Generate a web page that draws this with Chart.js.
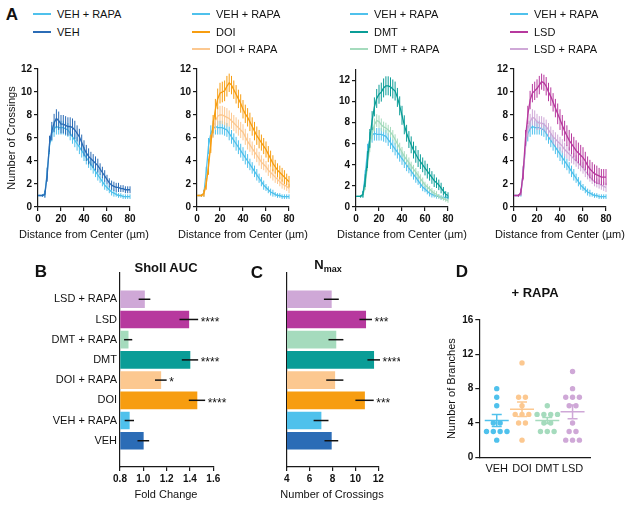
<!DOCTYPE html>
<html>
<head>
<meta charset="utf-8">
<script src="https://cdn.jsdelivr.net/npm/chart.js@4.4.1/dist/chart.umd.min.js"></script>
<style>
  body { margin: 0; background: #fff; }
  #fig { position: relative; width: 632px; height: 507px; overflow: hidden; font-family: "Liberation Sans", Arial, sans-serif; color: #111; }
  canvas { position: absolute; }
  .t { position: absolute; white-space: nowrap; line-height: 1; }
  .c { transform: translate(-50%, -50%); }
  .m { transform: translateY(-50%); }
  .letter { font-weight: bold; font-size: 17px; }
  .ttl { font-weight: bold; font-size: 13px; }
  .ttl sub { font-size: 9px; vertical-align: -3px; }
  .leg { font-size: 11px; }
  .ax { font-size: 11px; }
  .sw { position: absolute; height: 2px; width: 18px; transform: translateY(-50%); }
</style>
</head>
<body>
<div id="fig">
  <canvas id="a1"></canvas>
  <canvas id="a2"></canvas>
  <canvas id="a3"></canvas>
  <canvas id="a4"></canvas>
  <canvas id="b"></canvas>
  <canvas id="c"></canvas>
  <canvas id="d"></canvas>
</div>
<script>
// Sholl profiles, distance from center (um)
const dist = [0, 2, 4, 6, 8, 10, 12, 14, 16, 18,
  20, 22, 24, 26, 28, 30, 32, 34, 36, 38,
  40, 42, 44, 46, 48, 50, 52, 54, 56, 58,
  60, 62, 64, 66, 68, 70, 72, 74, 76, 78, 80]

const vehRapa = [1.0, 1.0, 1.0, 1.2, 3.0, 5.3, 6.4, 6.8, 7.0, 6.9,
  6.9, 6.9, 6.8, 6.7, 6.4, 6.1, 5.8, 5.5, 5.2, 4.9,
  4.6, 4.3, 4.0, 3.7, 3.4, 3.1, 2.8, 2.5, 2.2, 1.9,
  1.7, 1.5, 1.3, 1.2, 1.1, 1.0, 1.0, 0.9, 0.9, 0.9, 0.9]
const vehRapaErr = [0.0, 0.0, 0.1, 0.3, 0.5, 0.7, 0.7, 0.7, 0.7, 0.6,
  0.6, 0.6, 0.6, 0.6, 0.6, 0.6, 0.6, 0.6, 0.6, 0.6,
  0.6, 0.6, 0.6, 0.5, 0.5, 0.5, 0.5, 0.4, 0.4, 0.4,
  0.3, 0.3, 0.3, 0.3, 0.2, 0.2, 0.2, 0.2, 0.2, 0.2, 0.2]

const veh = [1.0, 1.0, 1.0, 1.1, 2.8, 5.5, 6.6, 7.3, 7.7, 7.5,
  7.2, 7.2, 7.1, 7.0, 7.0, 6.9, 6.7, 6.4, 6.1, 5.6,
  5.1, 4.7, 4.4, 4.2, 4.0, 3.8, 3.6, 3.3, 3.0, 2.7,
  2.4, 2.1, 1.9, 1.8, 1.7, 1.7, 1.6, 1.6, 1.5, 1.5, 1.5]
const vehErr = [0.0, 0.0, 0.1, 0.3, 0.6, 0.7, 0.8, 0.8, 0.8, 0.8,
  0.8, 0.8, 0.8, 0.8, 0.8, 0.8, 0.8, 0.7, 0.7, 0.7,
  0.7, 0.7, 0.7, 0.6, 0.6, 0.6, 0.6, 0.5, 0.5, 0.5,
  0.4, 0.4, 0.4, 0.4, 0.4, 0.4, 0.3, 0.3, 0.3, 0.3, 0.3]

const doi = [1.0, 1.0, 1.0, 1.2, 2.0, 3.5, 5.5, 7.2, 8.5, 9.4,
  9.9, 10.0, 10.1, 10.5, 10.8, 10.6, 10.2, 9.8, 9.4, 9.0,
  8.5, 8.1, 7.8, 7.4, 7.0, 6.6, 6.2, 5.9, 5.6, 5.3,
  5.0, 4.6, 4.2, 3.8, 3.5, 3.2, 3.0, 2.8, 2.6, 2.4, 2.2]
const doiErr = [0.0, 0.0, 0.1, 0.3, 0.5, 0.7, 0.8, 0.8, 0.9, 0.9,
  0.9, 0.9, 0.9, 0.9, 0.8, 0.8, 0.8, 0.8, 0.8, 0.8,
  0.8, 0.8, 0.8, 0.8, 0.8, 0.8, 0.8, 0.8, 0.7, 0.7,
  0.7, 0.7, 0.7, 0.7, 0.6, 0.6, 0.6, 0.6, 0.6, 0.5, 0.5]

const doiRapa = [1.0, 1.0, 1.0, 1.1, 2.0, 3.8, 5.6, 6.8, 7.5, 7.9,
  8.0, 8.0, 7.9, 7.8, 7.7, 7.5, 7.3, 7.1, 6.9, 6.7,
  6.5, 6.1, 5.7, 5.4, 5.1, 4.8, 4.5, 4.2, 3.9, 3.7,
  3.5, 3.2, 3.0, 2.8, 2.6, 2.4, 2.2, 2.0, 1.9, 1.8, 1.6]
const doiRapaErr = [0.0, 0.0, 0.1, 0.2, 0.4, 0.6, 0.7, 0.8, 0.8, 0.8,
  0.8, 0.8, 0.8, 0.8, 0.7, 0.7, 0.7, 0.7, 0.7, 0.7,
  0.7, 0.7, 0.7, 0.6, 0.6, 0.6, 0.6, 0.6, 0.6, 0.5,
  0.5, 0.5, 0.5, 0.5, 0.5, 0.4, 0.4, 0.4, 0.4, 0.4, 0.4]

const dmt = [1.0, 1.0, 1.0, 1.2, 2.5, 4.5, 6.5, 8.2, 9.5, 10.3,
  10.7, 10.9, 11.3, 11.5, 11.5, 11.4, 11.2, 11.0, 10.4, 9.6,
  8.7, 7.8, 7.0, 6.4, 5.9, 5.4, 5.0, 4.6, 4.3, 4.0,
  3.7, 3.4, 3.1, 2.8, 2.5, 2.3, 2.1, 1.8, 1.5, 1.2, 1.1]
const dmtErr = [0.0, 0.0, 0.1, 0.3, 0.6, 0.8, 0.9, 0.9, 0.9, 0.9,
  0.9, 0.9, 0.9, 0.9, 0.9, 0.9, 0.9, 0.9, 0.9, 0.9,
  0.9, 0.9, 0.8, 0.8, 0.8, 0.8, 0.8, 0.8, 0.7, 0.7,
  0.7, 0.7, 0.6, 0.6, 0.6, 0.5, 0.5, 0.5, 0.4, 0.3, 0.3]

const dmtRapa = [1.0, 1.0, 1.0, 1.1, 2.0, 4.0, 5.8, 7.0, 7.8, 8.2,
  8.1, 7.8, 7.6, 7.5, 7.3, 7.1, 6.8, 6.4, 6.0, 5.6,
  5.2, 4.8, 4.5, 4.2, 3.9, 3.6, 3.3, 3.0, 2.7, 2.4,
  2.1, 1.9, 1.7, 1.5, 1.3, 1.2, 1.0, 0.9, 0.8, 0.7, 0.6]
const dmtRapaErr = [0.0, 0.0, 0.1, 0.2, 0.4, 0.6, 0.6, 0.6, 0.6, 0.6,
  0.6, 0.6, 0.5, 0.5, 0.5, 0.5, 0.5, 0.5, 0.5, 0.5,
  0.5, 0.5, 0.5, 0.5, 0.4, 0.4, 0.4, 0.4, 0.4, 0.4,
  0.3, 0.3, 0.3, 0.3, 0.3, 0.3, 0.2, 0.2, 0.2, 0.2, 0.2]

const lsd = [1.0, 1.0, 1.0, 1.3, 3.0, 6.0, 8.0, 9.3, 9.9, 10.1,
  10.3, 10.6, 10.9, 10.8, 10.5, 10.0, 9.6, 9.1, 8.6, 8.1,
  7.6, 7.1, 6.6, 6.2, 5.8, 5.5, 5.2, 4.9, 4.7, 4.5,
  4.3, 4.0, 3.6, 3.3, 3.1, 2.9, 2.8, 2.7, 2.6, 2.6, 2.6]
const lsdErr = [0.0, 0.0, 0.1, 0.3, 0.6, 0.7, 0.8, 0.8, 0.8, 0.8,
  0.8, 0.8, 0.7, 0.7, 0.8, 0.8, 0.8, 0.8, 0.8, 0.9,
  0.9, 0.9, 0.9, 0.9, 0.9, 0.9, 0.9, 0.9, 0.9, 0.9,
  0.9, 0.8, 0.8, 0.8, 0.8, 0.8, 0.8, 0.7, 0.7, 0.7, 0.7]

const lsdRapa = [1.0, 1.0, 1.0, 1.2, 2.8, 5.2, 6.8, 7.4, 7.8, 7.7,
  7.4, 7.3, 7.3, 7.2, 7.0, 6.7, 6.4, 6.1, 5.9, 5.7,
  5.5, 5.3, 5.0, 4.8, 4.6, 4.4, 4.2, 4.0, 3.8, 3.6,
  3.4, 3.1, 2.9, 2.6, 2.4, 2.2, 2.1, 2.0, 1.9, 1.8, 1.7]
const lsdRapaErr = [0.0, 0.0, 0.1, 0.2, 0.5, 0.6, 0.7, 0.7, 0.7, 0.7,
  0.7, 0.6, 0.6, 0.6, 0.6, 0.6, 0.6, 0.6, 0.6, 0.6,
  0.6, 0.6, 0.6, 0.6, 0.6, 0.6, 0.5, 0.5, 0.5, 0.5,
  0.5, 0.5, 0.5, 0.4, 0.4, 0.4, 0.4, 0.4, 0.4, 0.4, 0.4]

// Panels B and C, top to bottom
const groups = ['LSD + RAPA', 'LSD', 'DMT + RAPA', 'DMT', 'DOI + RAPA', 'DOI', 'VEH + RAPA', 'VEH']
const aucMean = [1.01, 1.39, 0.87, 1.40, 1.15, 1.46, 0.88, 1.00]
const aucSem = [0.05, 0.08, 0.035, 0.07, 0.05, 0.07, 0.04, 0.05]
const aucStars = ['', '****', '', '****', '*', '****', '', '']
const nmaxMean = [7.9, 10.9, 8.3, 11.6, 8.2, 10.8, 7.0, 7.9]
const nmaxSem = [0.65, 0.55, 0.65, 0.55, 0.75, 0.8, 0.65, 0.6]
const nmaxStars = ['', '***', '', '****', '', '***', '', '']

// Panel D, number of branches per cell (+ RAPA)
const branchGroups = ['VEH', 'DOI', 'DMT', 'LSD']
const vehBranches = [8, 7, 6, 4, 4, 3, 3, 3, 3, 2]
const doiBranches = [11, 7, 7, 6, 5, 5, 5, 4, 4, 2]
const dmtBranches = [6, 5, 5, 5, 5, 4, 4, 3, 3, 3]
const lsdBranches = [10, 8, 7, 7, 7, 6, 6, 4, 3, 3, 2, 2, 2]
const branchMean = [4.3, 5.6, 4.3, 5.3]
const branchSem = [0.7, 0.85, 0.35, 0.8]

const col = {
  vehRapa: '#4fc1ec', veh: '#2b6cb6',
  doi: '#f79d10', doiRapa: '#fcc890',
  dmt: '#0a9d97', dmtRapa: '#a5dbbd',
  lsd: '#b7399e', lsdRapa: '#cfa8d7'
}
const barColors = [col.lsdRapa, col.lsd, col.dmtRapa, col.dmt, col.doiRapa, col.doi, col.vehRapa, col.veh]
const dotColors = [col.vehRapa, col.doiRapa, col.dmtRapa, col.lsdRapa]

Chart.defaults.font.family = '"Liberation Sans", Arial, sans-serif'
Chart.defaults.color = '#111'
Chart.defaults.animation = false
Chart.defaults.responsive = false
Chart.defaults.plugins.legend.display = false
Chart.defaults.plugins.tooltip.enabled = false

const ink = '#1a1a1a'
const tickFont = { size: 10, weight: 'bold' }
const axisGrid = { drawOnChartArea: false, drawTicks: true, tickLength: 4, color: ink, lineWidth: 1.2 }
const axisBorder = { display: true, color: ink, width: 1.2 }

// ---------- text (letters, titles, legends, x axis titles)
const fig = document.getElementById('fig')
function text (html, x, y, cls) {
  const el = document.createElement('div')
  el.className = 't ' + cls
  el.style.left = x + 'px'
  el.style.top = y + 'px'
  el.innerHTML = html
  fig.appendChild(el)
}
text('A', 12, 14, 'c letter')
text('B', 41, 271, 'c letter')
text('C', 257, 272, 'c letter')
text('D', 462, 271, 'c letter')
text('Sholl AUC', 166, 267, 'c ttl')
text('N<sub>max</sub>', 328, 266, 'c ttl')
text('+ RAPA', 535, 292, 'c ttl')
text('Fold Change', 166, 494, 'c ax')
text('Number of Crossings', 332, 494, 'c ax')
;[38, 197, 356, 514].forEach(x => text('Distance from Center (µm)', x + 46, 234, 'c ax'))

const legends = [
  { x: 33, items: [['VEH + RAPA', col.vehRapa], ['VEH', col.veh]] },
  { x: 192, items: [['VEH + RAPA', col.vehRapa], ['DOI', col.doi], ['DOI + RAPA', col.doiRapa]] },
  { x: 350, items: [['VEH + RAPA', col.vehRapa], ['DMT', col.dmt], ['DMT + RAPA', col.dmtRapa]] },
  { x: 510, items: [['VEH + RAPA', col.vehRapa], ['LSD', col.lsd], ['LSD + RAPA', col.lsdRapa]] }
]
legends.forEach(lg => {
  lg.items.forEach(([name, c], i) => {
    const y = 14 + i * 17.5
    const sw = document.createElement('div')
    sw.className = 'sw'
    sw.style.left = lg.x + 'px'
    sw.style.top = y + 'px'
    sw.style.background = c
    fig.appendChild(sw)
    text(name, lg.x + 24, y, 'm leg')
  })
})

// ---------- panel A
const errBars = {
  id: 'errBars',
  afterDatasetDraw (chart, args) {
    const ds = chart.data.datasets[args.index]
    const { x, y } = chart.scales
    const ctx = chart.ctx
    ctx.save()
    ctx.strokeStyle = ds.borderColor
    ctx.lineWidth = 1
    ds.data.forEach((p, i) => {
      const e = ds.err[i]
      if (!e) return
      const px = x.getPixelForValue(p.x)
      ctx.beginPath()
      ctx.moveTo(px, y.getPixelForValue(p.y - e))
      ctx.lineTo(px, y.getPixelForValue(p.y + e))
      ctx.stroke()
    })
    ctx.restore()
  }
}

function sholl (id, axisX, sets, yMax, yTitle, plotTop) {
  const cv = document.getElementById(id)
  const w = 160
  cv.width = w
  cv.height = 190
  cv.style.left = (axisX - 38) + 'px'
  cv.style.top = '60px'
  return new Chart(cv, {
    type: 'line',
    data: {
      datasets: sets.map(s => ({
        data: dist.map((d, i) => ({ x: d, y: s.y[i] })),
        err: s.e,
        borderColor: s.c,
        borderWidth: 1.3,
        pointRadius: 0,
        tension: 0
      }))
    },
    options: {
      layout: { padding: { top: plotTop - 60, right: w - 130, left: 0, bottom: 0 } },
      scales: {
        x: {
          type: 'linear', min: 0, max: 80,
          ticks: { stepSize: 20, font: tickFont, padding: 2, color: '#111' },
          grid: axisGrid, border: axisBorder,
          afterFit: s => { s.height = 43 }
        },
        y: {
          min: 0, max: yMax,
          ticks: { stepSize: 2, includeBounds: false, font: tickFont, padding: 2, color: '#111' },
          grid: axisGrid, border: axisBorder,
          title: { display: yTitle, text: 'Number of Crossings', font: { size: 11 }, padding: { top: 5, bottom: 0 }, color: '#111' },
          afterFit: s => { s.width = 38 }
        }
      }
    },
    plugins: [errBars]
  })
}

const vehRapaSet = { y: vehRapa, e: vehRapaErr, c: col.vehRapa }
sholl('a1', 38, [{ y: veh, e: vehErr, c: col.veh }, vehRapaSet], 12, true, 69)
sholl('a2', 197, [{ y: doi, e: doiErr, c: col.doi }, { y: doiRapa, e: doiRapaErr, c: col.doiRapa }, vehRapaSet], 12, false, 69)
sholl('a3', 356, [{ y: dmt, e: dmtErr, c: col.dmt }, { y: dmtRapa, e: dmtRapaErr, c: col.dmtRapa }, vehRapaSet], 13, false, 70)
sholl('a4', 514, [{ y: lsd, e: lsdErr, c: col.lsd }, { y: lsdRapa, e: lsdRapaErr, c: col.lsdRapa }, vehRapaSet], 12, false, 69)

// ---------- panels B and C
const barMarks = {
  id: 'barMarks',
  afterDatasetsDraw (chart) {
    const ds = chart.data.datasets[0]
    const { x, y } = chart.scales
    const ctx = chart.ctx
    ctx.save()
    ctx.strokeStyle = '#111'
    ctx.fillStyle = '#111'
    ctx.lineWidth = 1.5
    ctx.font = '12px "Liberation Sans", Arial, sans-serif'
    ctx.textBaseline = 'middle'
    ds.data.forEach((p, i) => {
      const py = y.getPixelForValue(p.y)
      const x2 = x.getPixelForValue(p.x + ds.sem[i])
      ctx.beginPath()
      ctx.moveTo(x.getPixelForValue(p.x - ds.sem[i]), py)
      ctx.lineTo(x2, py)
      ctx.stroke()
      if (ds.stars[i]) ctx.fillText(ds.stars[i], x2 + 2.5, py + 3)
    })
    ctx.restore()
  }
}

function hbar (id, left, w, axisX, plotRight, means, sems, stars, xMin, xMax, step, dec, showLabels) {
  const cv = document.getElementById(id)
  cv.width = w
  cv.height = 252
  cv.style.left = left + 'px'
  cv.style.top = '255px'
  return new Chart(cv, {
    type: 'bar',
    data: {
      datasets: [{
        data: means.map((v, i) => ({ x: v, y: i })),
        sem: sems,
        stars: stars,
        backgroundColor: barColors,
        base: xMin,
        barThickness: 17
      }]
    },
    options: {
      indexAxis: 'y',
      layout: { padding: { top: 18, right: w - (plotRight - left), left: 0, bottom: 0 } },
      scales: {
        x: {
          type: 'linear', min: xMin, max: xMax,
          ticks: { stepSize: step, font: tickFont, padding: 2, color: '#111', callback: v => v.toFixed(dec) },
          grid: axisGrid, border: axisBorder,
          afterFit: s => { s.height = 40 }
        },
        y: {
          type: 'linear', reverse: true, min: -0.7, max: 7.7,
          ticks: {
            display: showLabels, stepSize: 1, includeBounds: false, autoSkip: false,
            font: { size: 11 }, padding: 3, color: '#111',
            callback: v => groups[v] ?? ''
          },
          grid: { display: false, drawTicks: false },
          border: axisBorder,
          afterFit: s => { s.width = axisX - left }
        }
      }
    },
    plugins: [barMarks]
  })
}

hbar('b', 0, 245, 120, 213.3, aucMean, aucSem, aucStars, 0.8, 1.6, 0.2, 1, true)
hbar('c', 245, 155, 286.7, 378.3, nmaxMean, nmaxSem, nmaxStars, 4, 12, 2, 0, false)

// ---------- panel D
function swarm (vals, center) {
  const counts = {}
  vals.forEach(v => { counts[v] = (counts[v] || 0) + 1 })
  const seen = {}
  return vals.map(v => {
    const k = seen[v] = (seen[v] || 0) + 1
    return { x: center + (k - 1 - (counts[v] - 1) / 2) * 0.27, y: v }
  })
}

const meanSem = {
  id: 'meanSem',
  afterDatasetsDraw (chart) {
    const { x, y } = chart.scales
    const ctx = chart.ctx
    ctx.save()
    ctx.lineWidth = 1.5
    branchMean.forEach((m, i) => {
      const cx = x.getPixelForValue(i + 1)
      const cy = y.getPixelForValue(m)
      const top = y.getPixelForValue(m + branchSem[i])
      const bot = y.getPixelForValue(m - branchSem[i])
      ctx.strokeStyle = dotColors[i]
      ctx.beginPath()
      ctx.moveTo(cx - 12, cy); ctx.lineTo(cx + 12, cy)
      ctx.moveTo(cx, top); ctx.lineTo(cx, bot)
      ctx.moveTo(cx - 5, top); ctx.lineTo(cx + 5, top)
      ctx.moveTo(cx - 5, bot); ctx.lineTo(cx + 5, bot)
      ctx.stroke()
    })
    ctx.restore()
  }
}

const cvD = document.getElementById('d')
cvD.width = 202
cvD.height = 180
cvD.style.left = '430px'
cvD.style.top = '300px'
new Chart(cvD, {
  type: 'scatter',
  data: {
    datasets: [vehBranches, doiBranches, dmtBranches, lsdBranches].map((vals, i) => ({
      data: swarm(vals, i + 1),
      backgroundColor: dotColors[i],
      borderWidth: 0,
      pointRadius: 2.7
    }))
  },
  options: {
    layout: { padding: { top: 20, right: 42, left: 0, bottom: 0 } },
    scales: {
      x: {
        type: 'linear', min: 0.31, max: 4.69,
        ticks: { stepSize: 1, includeBounds: false, font: { size: 11 }, padding: 5, color: '#111', callback: v => branchGroups[v - 1] ?? '' },
        grid: { display: false, drawTicks: false },
        border: axisBorder,
        afterFit: s => { s.height = 22.7 }
      },
      y: {
        min: 0, max: 16,
        ticks: { stepSize: 4, font: tickFont, padding: 2, color: '#111' },
        grid: axisGrid, border: axisBorder,
        title: { display: true, text: 'Number of Branches', font: { size: 11 }, padding: { top: 15, bottom: 0 }, color: '#111' },
        afterFit: s => { s.width = 49.3 }
      }
    }
  },
  plugins: [meanSem]
})
</script>
</body>
</html>
